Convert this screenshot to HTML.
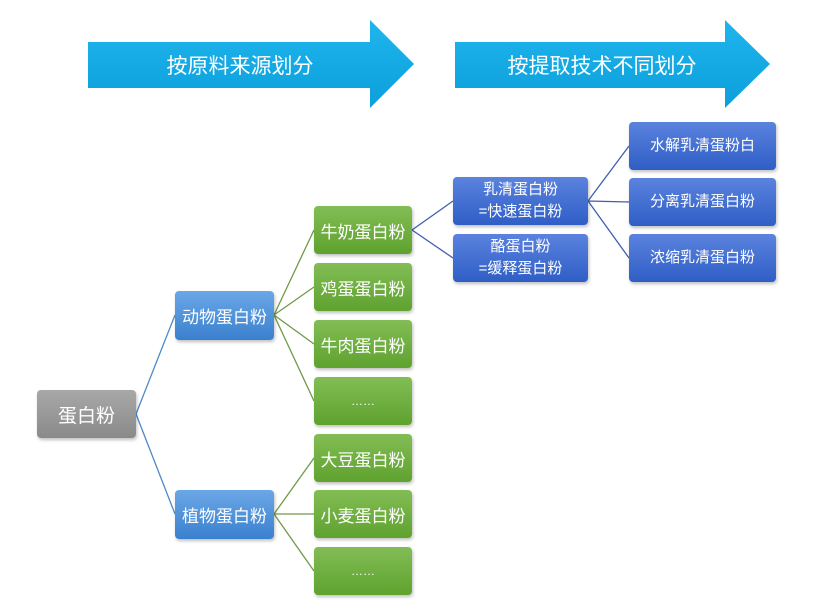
<!DOCTYPE html>
<html><head><meta charset="utf-8"><style>
body{margin:0;width:828px;height:612px;background:#fff;position:relative;overflow:hidden;font-family:"Liberation Sans","Noto Sans CJK SC",sans-serif}
.b{position:absolute;color:#fff;display:flex;align-items:center;justify-content:center;text-align:center;border-radius:4px;box-shadow:1px 2px 3px rgba(0,0,0,.25)}
.g{background:linear-gradient(#82bd55,#5fa22f);font-size:17px;left:314px;width:98px;height:48px}
.bl{background:linear-gradient(#6aa7e6,#3b80cf);font-size:17px;left:175px;width:99px;height:49px}
.d{background:linear-gradient(#5b83de,#2f5ec6);font-size:15px;line-height:22px}
</style></head><body>
<svg width="828" height="612" style="position:absolute;left:0;top:0">
<defs><linearGradient id="a" x1="0" y1="0" x2="0" y2="1"><stop offset="0" stop-color="#1fb5ec"/><stop offset="1" stop-color="#0c9fdc"/></linearGradient></defs>
<polygon points="88,42 370,42 370,20 414,64 370,108 370,88 88,88" fill="url(#a)"/>
<polygon points="455,42 725,42 725,20 770,64 725,108 725,88 455,88" fill="url(#a)"/>
<text x="240" y="73" fill="#fff" font-size="21" text-anchor="middle" font-family="Liberation Sans,Noto Sans CJK SC,sans-serif">按原料来源划分</text>
<text x="602" y="73" fill="#fff" font-size="21" text-anchor="middle" font-family="Liberation Sans,Noto Sans CJK SC,sans-serif">按提取技术不同划分</text>
<g stroke="#4d8ac8" stroke-width="1.3" fill="none">
<path d="M136,414 L175,315 M136,414 L175,514"/></g>
<g stroke="#6f9a48" stroke-width="1.3" fill="none">
<path d="M274,315 L314,230 M274,315 L314,287 M274,315 L314,344 M274,315 L314,401 M274,514 L314,458 M274,514 L314,514 M274,514 L314,571"/></g>
<g stroke="#3e5fae" stroke-width="1.3" fill="none">
<path d="M412,230 L453,201 M412,230 L453,258 M588,201 L629,146 M588,201 L629,202 M588,201 L629,258"/></g>
</svg>
<div class="b" style="left:37px;top:390px;width:99px;height:48px;background:linear-gradient(#a8a8a8,#8a8a8a);font-size:19px">蛋白粉</div>
<div class="b bl" style="top:291px">动物蛋白粉</div>
<div class="b bl" style="top:490px">植物蛋白粉</div>
<div class="b g" style="top:206px">牛奶蛋白粉</div>
<div class="b g" style="top:263px">鸡蛋蛋白粉</div>
<div class="b g" style="top:320px">牛肉蛋白粉</div>
<div class="b g" style="top:377px;font-size:12px">……</div>
<div class="b g" style="top:434px">大豆蛋白粉</div>
<div class="b g" style="top:490px">小麦蛋白粉</div>
<div class="b g" style="top:547px;font-size:12px">……</div>
<div class="b d" style="left:453px;top:177px;width:135px;height:48px">乳清蛋白粉<br>=快速蛋白粉</div>
<div class="b d" style="left:453px;top:234px;width:135px;height:48px">酪蛋白粉<br>=缓释蛋白粉</div>
<div class="b d" style="left:629px;top:122px;width:147px;height:48px">水解乳清蛋粉白</div>
<div class="b d" style="left:629px;top:178px;width:147px;height:48px">分离乳清蛋白粉</div>
<div class="b d" style="left:629px;top:234px;width:147px;height:48px">浓缩乳清蛋白粉</div>
</body></html>
